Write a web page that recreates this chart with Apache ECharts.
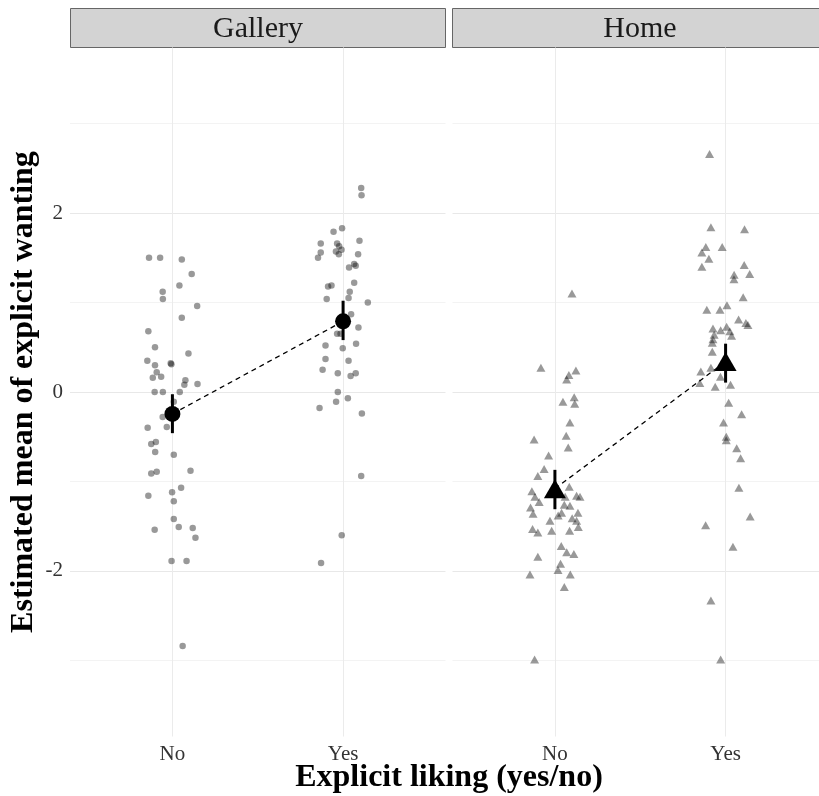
<!DOCTYPE html>
<html>
<head>
<meta charset="utf-8">
<script src="https://cdn.jsdelivr.net/npm/echarts@6/dist/echarts.min.js"></script>
<style>
  html, body { margin: 0; padding: 0; background: #fff; }
  #main { width: 819px; height: 796px; }
</style>
</head>
<body>
<div id="main"></div>
<script>
// categories and panels
var liking = ['No', 'Yes'];
var panels = ['Gallery', 'Home'];
var yTicks = [-2, 0, 2];
var yGrid = [-3, -2, -1, 0, 1, 2, 3];

// raw points: horizontal jitter (offset from category) and value
var galleryNoJit = [-0.137,-0.072,0.055,0.113,0.041,-0.057,-0.056,0.145,0.055,-0.141,-0.102,0.094,-0.147,-0.102,-0.010,-0.006,-0.092,-0.115,-0.066,0.076,0.070,0.147,-0.104,-0.056,0.043,0.008,-0.057,-0.033,-0.145,-0.124,-0.097,-0.101,0.008,-0.124,-0.092,0.106,0.051,-0.141,-0.002,0.008,0.008,-0.104,0.037,0.119,0.135,-0.005,0.083,0.060];
var galleryNoVal = [1.50,1.50,1.48,1.32,1.19,1.12,1.04,0.96,0.83,0.68,0.50,0.43,0.35,0.30,0.32,0.31,0.22,0.16,0.17,0.13,0.08,0.09,0.00,0.00,0.00,-0.11,-0.28,-0.39,-0.40,-0.58,-0.56,-0.67,-0.70,-0.91,-0.89,-0.88,-1.07,-1.16,-1.12,-1.22,-1.42,-1.54,-1.51,-1.52,-1.63,-1.89,-1.89,-2.84];

var galleryYesJit = [0.106,0.108,-0.056,-0.006,-0.131,-0.035,0.096,-0.023,-0.009,-0.042,-0.025,-0.131,-0.147,0.088,0.065,0.074,0.035,0.065,-0.088,-0.068,0.039,-0.096,0.032,0.145,0.047,0.090,-0.035,-0.015,-0.103,-0.002,0.076,-0.103,0.032,-0.120,-0.031,0.044,0.074,-0.031,-0.041,0.028,-0.138,0.110,0.106,-0.008,-0.129];
var galleryYesVal = [2.28,2.20,1.79,1.83,1.66,1.66,1.69,1.63,1.59,1.57,1.54,1.56,1.50,1.54,1.43,1.41,1.39,1.22,1.18,1.19,1.12,1.04,1.05,1.00,0.87,0.72,0.65,0.65,0.52,0.49,0.54,0.37,0.35,0.25,0.21,0.18,0.21,0.00,-0.11,-0.07,-0.18,-0.24,-0.94,-1.60,-1.91];

var homeNoJit = [0.100,-0.082,0.082,0.123,0.069,0.113,0.047,0.116,0.088,-0.122,0.066,0.078,-0.037,-0.063,-0.100,0.084,-0.135,-0.117,-0.092,0.060,0.127,0.147,-0.143,0.055,0.088,-0.128,0.019,0.039,0.135,-0.029,0.101,0.127,-0.131,-0.100,-0.019,0.086,0.137,0.037,0.069,0.111,-0.100,0.033,0.018,-0.146,0.090,0.055,-0.119];
var homeNoVal = [1.10,0.27,0.19,0.24,0.14,-0.06,-0.11,-0.13,-0.34,-0.53,-0.49,-0.62,-0.71,-0.86,-0.94,-1.06,-1.11,-1.17,-1.23,-1.17,-1.16,-1.17,-1.29,-1.26,-1.27,-1.36,-1.38,-1.35,-1.35,-1.44,-1.41,-1.44,-1.53,-1.57,-1.55,-1.55,-1.51,-1.72,-1.79,-1.81,-1.84,-1.92,-1.99,-2.04,-2.04,-2.18,-2.99];

var homeYesJit = [-0.094,-0.086,0.111,-0.116,-0.020,-0.139,-0.098,-0.139,0.109,0.050,0.141,0.049,0.103,-0.110,-0.033,0.008,0.076,0.119,0.131,-0.074,-0.029,0.006,0.025,0.035,-0.067,-0.074,-0.078,-0.078,-0.145,-0.086,-0.030,-0.151,-0.061,0.029,0.018,0.094,-0.012,0.004,0.004,0.065,0.088,0.078,0.144,-0.117,0.043,-0.086,-0.029];
var homeYesVal = [2.66,1.84,1.82,1.62,1.62,1.56,1.49,1.40,1.42,1.31,1.32,1.26,1.06,0.92,0.92,0.97,0.81,0.77,0.75,0.71,0.69,0.73,0.68,0.63,0.64,0.59,0.55,0.45,0.23,0.27,0.17,0.10,0.06,0.08,-0.12,-0.25,-0.34,-0.50,-0.54,-0.63,-0.74,-1.07,-1.39,-1.49,-1.73,-2.33,-2.99];

// estimated means with interval (No, Yes)
var galleryMean = [-0.245, 0.79];
var galleryLow = [-0.46, 0.58];
var galleryHigh = [-0.025, 1.02];
var homeMean = [-1.08, 0.34];
var homeLow = [-1.31, 0.105];
var homeHigh = [-0.87, 0.54];

function pts(pos, jit, val) {
    return val.map(function (v, i) { return [pos + jit[i], v]; });
}

var serif = 'Liberation Serif';
var myChart = echarts.init(document.getElementById('main'));

function xAxisFor(i) {
    return {
        type: 'value', gridIndex: i, min: 0.4, max: 2.6,
        axisLine: { show: false },
        axisTick: { show: false, customValues: [1, 2] },
        axisLabel: {
            customValues: [1, 2], margin: 7,
            fontFamily: serif, fontSize: 21, color: '#333',
            formatter: function (v) { return liking[Math.round(v) - 1]; }
        },
        splitLine: { show: true, lineStyle: { color: '#ebebeb', width: 1 } }
    };
}
function yAxisFor(i) {
    return {
        type: 'value', gridIndex: i, min: -3.85, max: 3.85,
        axisLine: { show: false },
        axisTick: { show: false, customValues: yGrid },
        axisLabel: {
            show: i === 0, customValues: yTicks, margin: 7,
            fontFamily: serif, fontSize: 21, color: '#333'
        },
        splitLine: { show: true, lineStyle: { color: ['#f3f3f3', '#e8e8e8'], width: 1 } },
        name: i === 0 ? 'Estimated mean of explicit wanting' : '',
        nameLocation: 'middle', nameGap: 30, nameRotate: 90,
        nameTextStyle: { fontFamily: serif, fontSize: 32, fontWeight: 'bold', color: '#000' }
    };
}

function errBars(i, low, high) {
    return {
        type: 'custom', xAxisIndex: i, yAxisIndex: i, z: 3,
        data: low.map(function (l, k) { return [k + 1, l, high[k]]; }),
        renderItem: function (params, api) {
            var a = api.coord([api.value(0), api.value(1)]);
            var b = api.coord([api.value(0), api.value(2)]);
            return { type: 'line', shape: { x1: a[0], y1: a[1], x2: b[0], y2: b[1] },
                     style: { stroke: '#000', lineWidth: 3 } };
        }
    };
}
function meanLine(i, mean, symbol, size) {
    return {
        type: 'line', xAxisIndex: i, yAxisIndex: i, z: 4,
        data: mean.map(function (m, k) { return [k + 1, m]; }),
        symbol: symbol, symbolSize: size, showSymbol: true,
        itemStyle: { color: '#000' },
        lineStyle: { color: '#000', width: 1.3, type: [5, 4] },
        animation: false
    };
}

var option = {
    animation: false,
    grid: [
        { left: 70, top: 47.5, width: 375.5, height: 689, outerBoundsMode: 'none' },
        { left: 452.5, top: 47.5, width: 375.5, height: 689, outerBoundsMode: 'none' }
    ],
    xAxis: [xAxisFor(0), xAxisFor(1)],
    yAxis: [yAxisFor(0), yAxisFor(1)],
    graphic: [
        { type: 'rect', shape: { x: 70.5, y: 8.5, width: 375, height: 39 },
          style: { fill: '#d3d3d3', stroke: '#666', lineWidth: 1 } },
        { type: 'text', x: 258, y: 29, style: { text: panels[0], font: '30px "Liberation Serif"',
          fill: '#1a1a1a', textAlign: 'center', textVerticalAlign: 'middle' } },
        { type: 'rect', shape: { x: 452.5, y: 8.5, width: 376, height: 39 },
          style: { fill: '#d3d3d3', stroke: '#666', lineWidth: 1 } },
        { type: 'text', x: 640, y: 29, style: { text: panels[1], font: '30px "Liberation Serif"',
          fill: '#1a1a1a', textAlign: 'center', textVerticalAlign: 'middle' } },
        { type: 'text', x: 449, y: 778, style: { text: 'Explicit liking (yes/no)',
          font: 'bold 32px "Liberation Serif"', fill: '#000', textAlign: 'center', textVerticalAlign: 'middle' } }
    ],
    series: [
        { type: 'scatter', xAxisIndex: 0, yAxisIndex: 0, symbol: 'circle', symbolSize: 6.5,
          itemStyle: { color: 'rgba(0,0,0,0.5)' },
          data: pts(1, galleryNoJit, galleryNoVal).concat(pts(2, galleryYesJit, galleryYesVal)) },
        { type: 'scatter', xAxisIndex: 1, yAxisIndex: 1, symbol: 'triangle', symbolSize: [9, 8],
          itemStyle: { color: 'rgba(0,0,0,0.5)' },
          data: pts(1, homeNoJit, homeNoVal).concat(pts(2, homeYesJit, homeYesVal)) },
        errBars(0, galleryLow, galleryHigh),
        errBars(1, homeLow, homeHigh),
        meanLine(0, galleryMean, 'circle', 16),
        meanLine(1, homeMean, 'triangle', [22, 19])
    ]
};

myChart.setOption(option);
</script>
</body>
</html>
